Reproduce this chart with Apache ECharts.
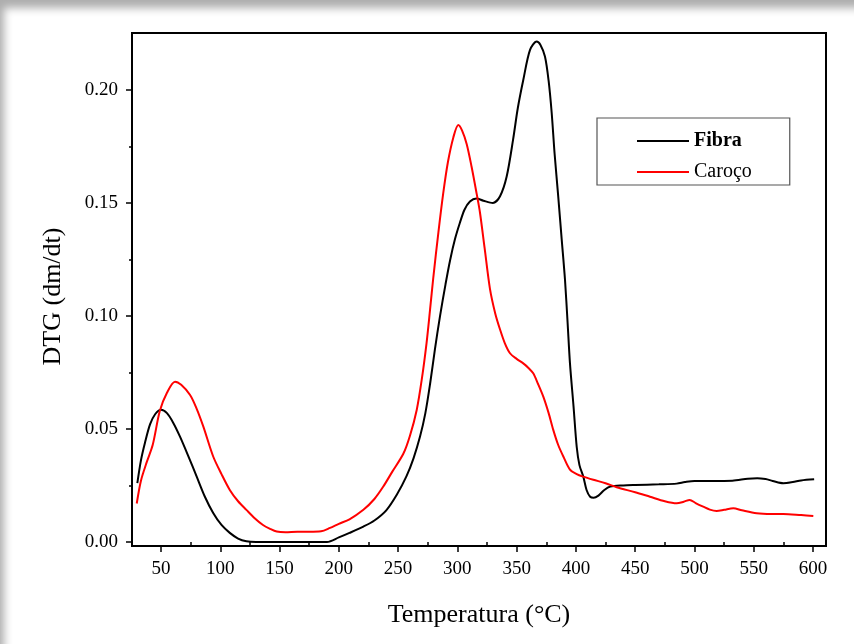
<!doctype html>
<html>
<head>
<meta charset="utf-8">
<script src="https://cdn.jsdelivr.net/npm/echarts@6/dist/echarts.min.js"></script>
<style>
  html, body { margin: 0; padding: 0; background: #fff; }
  #main { width: 854px; height: 644px; }
  #frame {
    position: absolute; left: 0; top: 0; width: 854px; height: 644px;
    pointer-events: none;
    box-shadow: inset 7px 11px 9px -3px rgba(0,0,0,0.32);
  }
</style>
</head>
<body>
<div id="main"></div>
<div id="frame"></div>
<script type="text/javascript">
// Temperatura (°C) / DTG
var fibraT = [30, 33, 36.5, 40.7, 45, 50, 55, 60, 66, 73, 80, 87, 94, 101, 108, 115, 122, 130, 150, 170, 190,
  200, 209, 220.7, 230, 240, 249, 257, 263, 268.5, 273, 277, 281, 285.3, 290, 294, 298, 302, 306, 310.6,
  316, 322, 330, 336, 341.6, 347, 351, 355.6, 361.3, 366.9, 370, 373.9, 377, 379.6, 382, 385.1, 388,
  390.8, 393, 395, 398, 400.7, 403, 406.2, 409, 412, 415, 419, 424, 429, 440, 450, 470, 485, 492, 500,
  515, 532, 545, 553, 560, 566, 575, 583, 590, 601];
var fibraDTG = [0.026, 0.036, 0.044, 0.052, 0.0565, 0.0585, 0.057, 0.053, 0.0466, 0.038, 0.029, 0.020, 0.0128,
  0.0075, 0.004, 0.0015, 0.0003, 0, 0, 0, 0,
  0.002, 0.004, 0.0068, 0.0095, 0.014, 0.021, 0.029, 0.037, 0.0466, 0.057, 0.070, 0.085, 0.0997, 0.114,
  0.125, 0.134, 0.141, 0.147, 0.1506,
  0.152, 0.151, 0.150, 0.153, 0.1617, 0.178, 0.192, 0.2044, 0.2177, 0.2214, 0.220, 0.2148, 0.204, 0.1897,
  0.172, 0.1528, 0.134,
  0.116, 0.097, 0.079, 0.060, 0.042, 0.034, 0.029, 0.023, 0.0200, 0.0195, 0.0205, 0.023, 0.0245, 0.025,
  0.0252, 0.0255, 0.0258, 0.0265, 0.027,
  0.027, 0.0271, 0.028, 0.0282, 0.0278, 0.0270, 0.026, 0.0265, 0.0272, 0.0277];

var carocoT = [29.5, 33, 38, 43, 49, 55, 61.8, 67, 74.5, 80, 85.7, 94, 101, 108, 115, 122, 129, 136, 142, 147.6,
  155, 165, 175, 185, 192.6, 200, 209, 220.7, 230, 237.5, 245, 254.4, 260, 265.7, 270, 274, 277, 279.7,
  284, 288, 292, 296.6, 300.8, 304, 307.9, 312, 316.3, 319, 323, 327.5, 332, 336, 340, 344.4, 350, 355.6,
  360, 364, 368, 372.5, 377, 380.9, 385, 389.4, 395, 400.7, 406, 414.7, 425, 434.4, 450, 462.5, 475, 485,
  491, 496, 501, 507.4, 513, 518.7, 525, 532.8, 540, 552.5, 565, 575, 590, 600.3];
var carocoDTG = [0.017, 0.027, 0.0354, 0.043, 0.058, 0.066, 0.0709, 0.0695, 0.065, 0.059, 0.051, 0.0378, 0.030,
  0.023, 0.018, 0.0142, 0.0105, 0.0075, 0.0058, 0.0046,
  0.0043, 0.0045, 0.0045, 0.0047, 0.0062, 0.0080, 0.0100, 0.0142, 0.019, 0.0245, 0.031, 0.039, 0.047,
  0.0584, 0.072, 0.088, 0.103, 0.117,
  0.137, 0.154, 0.168, 0.179, 0.1845, 0.182, 0.176, 0.166, 0.154, 0.146, 0.130, 0.112, 0.101, 0.094,
  0.088, 0.0835, 0.081, 0.079,
  0.077, 0.0746, 0.070, 0.0643, 0.057, 0.0496, 0.043, 0.0378, 0.032, 0.030, 0.0289, 0.0275, 0.026,
  0.0242, 0.022, 0.020, 0.018, 0.0171,
  0.0178, 0.0186, 0.0172, 0.0156, 0.0143, 0.0137, 0.0142, 0.0149, 0.0140, 0.0127, 0.0124, 0.0124,
  0.0119, 0.0115];

var xMajorTicks = [50, 100, 150, 200, 250, 300, 350, 400, 450, 500, 550, 600];
var xMinorTicks = [75, 125, 175, 225, 275, 325, 375, 425, 475, 525, 575];
var yMajorTicks = [0, 0.05, 0.10, 0.15, 0.20];
var yMinorTicks = [0.025, 0.075, 0.125, 0.175];

function pairs(xs, ys) {
  var out = [];
  for (var i = 0; i < xs.length; i++) out.push([xs[i], ys[i]]);
  return out;
}

var serif = '"Liberation Serif", "DejaVu Serif", serif';
var xMin = 25.5, xMax = 611, yMin = -0.0018, yMax = 0.2252;

var myChart = echarts.init(document.getElementById('main'));
var option = {
  backgroundColor: '#fff',
  animation: false,
  grid: {
    left: 132, right: 28, top: 33, bottom: 98,
    show: true, borderColor: '#000', borderWidth: 2
  },
  legend: {
    orient: 'vertical',
    left: 597, top: 118,
    padding: [13, 38, 3, 40],
    icon: 'rect',
    itemWidth: 52, itemHeight: 2, itemGap: 11,
    borderColor: '#555', borderWidth: 1.2,
    formatter: function (name) { return name === 'Fibra' ? '{b|Fibra}' : name; },
    textStyle: {
      fontFamily: serif, fontSize: 20, lineHeight: 20, color: '#000',
      rich: { b: { fontFamily: serif, fontSize: 20, lineHeight: 20, fontWeight: 'bold', color: '#000' } }
    }
  },
  xAxis: [{
    type: 'value', min: xMin, max: xMax,
    name: 'Temperatura (°C)', nameLocation: 'middle', nameGap: 56,
    nameTextStyle: { fontFamily: serif, fontSize: 26, color: '#000' },
    axisLine: { onZero: false, lineStyle: { color: '#000', width: 2 } },
    axisTick: { customValues: xMajorTicks, length: 6, lineStyle: { color: '#000', width: 1.5 } },
    axisLabel: { customValues: xMajorTicks, margin: 14, fontFamily: serif, fontSize: 19, color: '#000' },
    splitLine: { show: false }
  }, {
    type: 'value', min: xMin, max: xMax, position: 'bottom',
    axisLine: { show: false },
    axisTick: { customValues: xMinorTicks, length: 3, lineStyle: { color: '#000', width: 1.5 } },
    axisLabel: { show: false },
    splitLine: { show: false }
  }],
  yAxis: [{
    type: 'value', min: yMin, max: yMax,
    name: 'DTG (dm/dt)', nameLocation: 'middle', nameGap: 66,
    nameTextStyle: { fontFamily: serif, fontSize: 26, color: '#000', padding: [0, 14, 0, 0] },
    axisLine: { show: true, onZero: false, lineStyle: { color: '#000', width: 2 } },
    axisTick: { show: true, customValues: yMajorTicks, length: 6, lineStyle: { color: '#000', width: 1.5 } },
    axisLabel: {
      customValues: yMajorTicks, margin: 14, fontFamily: serif, fontSize: 19, color: '#000',
      formatter: function (v) { return v.toFixed(2); }
    },
    splitLine: { show: false }
  }, {
    type: 'value', min: yMin, max: yMax, position: 'left',
    axisLine: { show: false },
    axisTick: { show: true, customValues: yMinorTicks, length: 3, lineStyle: { color: '#000', width: 1.5 } },
    axisLabel: { show: false },
    splitLine: { show: false }
  }],
  series: [{
    name: 'Fibra', type: 'line', xAxisIndex: 0, yAxisIndex: 0,
    data: pairs(fibraT, fibraDTG),
    showSymbol: false, symbol: 'none', smooth: 0.3,
    lineStyle: { color: '#000', width: 2 }, itemStyle: { color: '#000' }
  }, {
    name: 'Caroço', type: 'line', xAxisIndex: 0, yAxisIndex: 0,
    data: pairs(carocoT, carocoDTG),
    showSymbol: false, symbol: 'none', smooth: 0.3,
    lineStyle: { color: '#f00', width: 2 }, itemStyle: { color: '#f00' }
  }]
};
myChart.setOption(option);
</script>
</body>
</html>
